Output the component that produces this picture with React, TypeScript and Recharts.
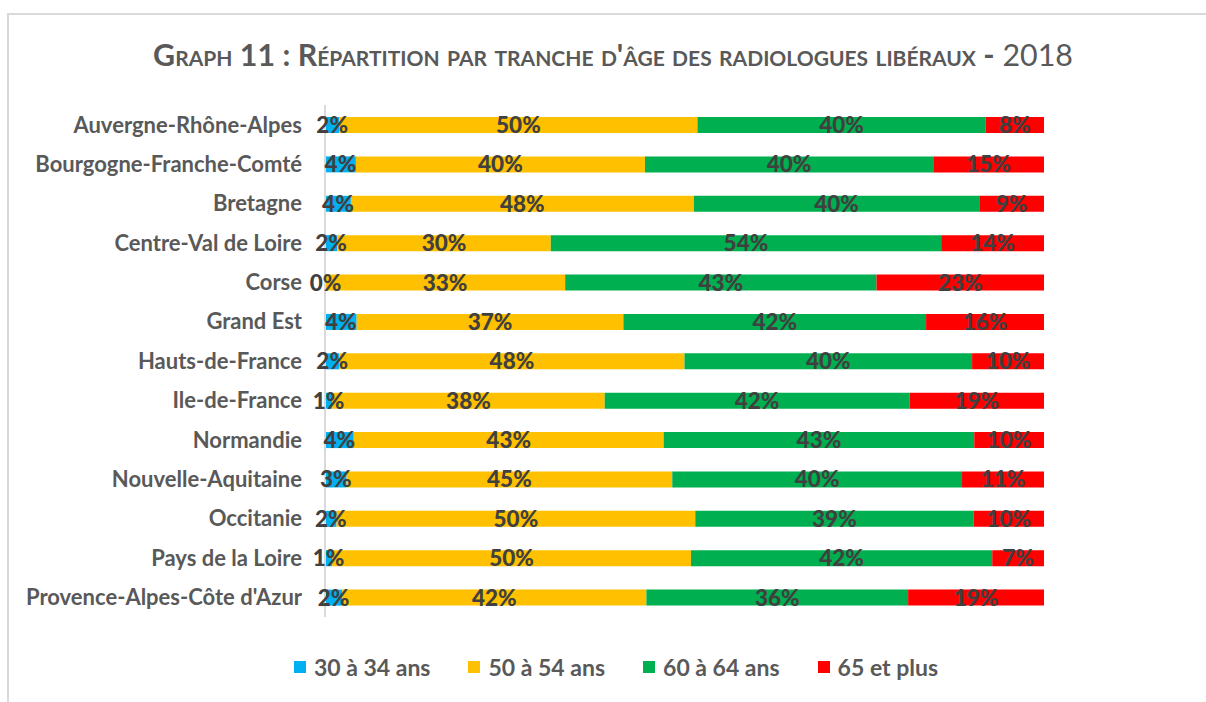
import React from "react";
import { BarChart, Bar, XAxis, YAxis, LabelList } from "recharts";

const categories = [
  "Auvergne-Rhône-Alpes",
  "Bourgogne-Franche-Comté",
  "Bretagne",
  "Centre-Val de Loire",
  "Corse",
  "Grand Est",
  "Hauts-de-France",
  "Ile-de-France",
  "Normandie",
  "Nouvelle-Aquitaine",
  "Occitanie",
  "Pays de la Loire",
  "Provence-Alpes-Côte d'Azur",
];

const age30_34 = [2, 4.3, 3.6, 1.7, 0, 4.4, 2, 1, 4, 3, 1.6, 1, 2.4];
const age50_54 = [49.8, 40.2, 47.7, 29.7, 33.4, 37.1, 48.0, 37.9, 43.1, 45.3, 49.9, 49.9, 42.3];
const age60_64 = [40.1, 40.1, 39.7, 54.3, 43.3, 42.1, 40.0, 42.4, 43.2, 40.3, 38.7, 41.9, 36.4];
const age65plus = [8.1, 15.4, 9.0, 14.3, 23.3, 16.4, 10.0, 18.7, 9.7, 11.4, 9.8, 7.2, 18.9];

const seriesNames = ["30 à 34 ans", "50 à 54 ans", "60 à 64 ans", "65 et plus"];
const seriesKeys = ["a", "b", "c", "d"];
const seriesColors = ["#00B0F0", "#FFC000", "#00B050", "#FF0000"];

const data = categories.map((name, i) => ({
  name,
  a: age30_34[i],
  b: age50_54[i],
  c: age60_64[i],
  d: age65plus[i],
}));

const FONT = "Lato, 'Open Sans', sans-serif";

export default function App() {
  return (
    <div style={{ position: "fixed", left: 0, top: 0, width: 1206, height: 702, overflow: "hidden", background: "#fff", fontFamily: FONT }}>
      <div
        style={{
          position: "absolute",
          left: 7,
          top: 13,
          width: 1230,
          height: 720,
          borderTop: "2px solid #d9d9d9",
          borderLeft: "2px solid #d9d9d9",
          boxSizing: "border-box",
        }}
      />
      <div
        style={{
          position: "absolute",
          left: 0,
          top: 34,
          width: 1226,
          textAlign: "center",
          fontSize: 30.4,
          color: "#595959",
          fontVariant: "small-caps",
          whiteSpace: "nowrap",
          lineHeight: "40px",
        }}
      >
        <span style={{ fontWeight: 700 }}>Graph 11 : Répartition par tranche d'âge des radiologues libéraux -</span>
        <span style={{ fontWeight: 400 }}> 2018</span>
      </div>
      <div style={{ position: "absolute", left: 0, top: 0 }}>
        <BarChart
          width={1206}
          height={702}
          data={data}
          layout="vertical"
          margin={{ top: 105, right: 162, bottom: 85, left: 15 }}
          barSize={16}
        >
          <XAxis type="number" domain={[0, 100]} hide />
          <YAxis
            type="category"
            dataKey="name"
            width={310}
            tickLine={false}
            tickMargin={17}
            axisLine={{ stroke: "#d9d9d9", strokeWidth: 2 }}
            tick={{ fill: "#595959", fontSize: 22, fontWeight: 700, fontFamily: FONT }}
            interval={0}
          />
          {seriesKeys.map((k, i) => (
            <Bar
              key={k}
              dataKey={k}
              name={seriesNames[i]}
              stackId="s"
              fill={seriesColors[i]}
              minPointSize={i === 0 ? 1 : 0}
              isAnimationActive={false}
            >
              <LabelList
                dataKey={k}
                position="center"
                formatter={(v: any) => `${Math.round(Number(v))}%`}
                fill="#404040"
                style={{ fontSize: 22.5, fontWeight: 900, fontFamily: FONT }}
              />
            </Bar>
          ))}
        </BarChart>
      </div>
      <div
        style={{
          position: "absolute",
          left: 0,
          top: 653,
          width: 1232,
          display: "flex",
          justifyContent: "center",
          gap: 38,
          fontSize: 23,
          fontWeight: 700,
          color: "#595959",
        }}
      >
        {seriesNames.map((n, i) => (
          <div key={n} style={{ display: "flex", alignItems: "center", gap: 8 }}>
            <div style={{ width: 12, height: 12, background: seriesColors[i] }} />
            <span>{n}</span>
          </div>
        ))}
      </div>
    </div>
  );
}
